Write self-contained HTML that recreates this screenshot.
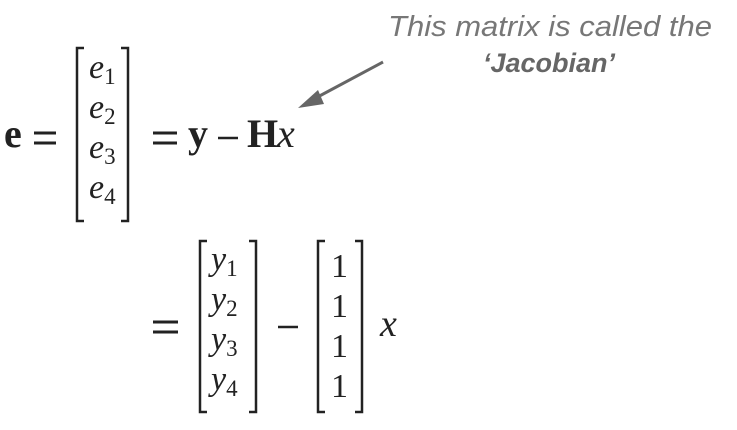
<!DOCTYPE html>
<html><head><meta charset="utf-8"><style>
html,body{margin:0;padding:0;background:#fff;width:737px;height:430px;overflow:hidden}
svg text{font-family:"Liberation Serif",serif;fill:#222}
.it{font-style:italic}
.b{font-weight:bold}
</style></head><body>
<svg width="737" height="430" viewBox="0 0 737 430">
 <g>
  <text x="388" y="36" font-size="29" textLength="324" lengthAdjust="spacingAndGlyphs" style="font-family:'Liberation Sans',sans-serif;font-style:italic;fill:#777">This matrix is called the</text>
  <text x="549" y="72" font-size="27" text-anchor="middle" font-weight="bold" style="font-family:'Liberation Sans',sans-serif;font-style:italic;fill:#666">‘Jacobian’</text>
  <line x1="383" y1="62" x2="312" y2="100" stroke="#666" stroke-width="3"/>
  <polygon points="298,108 318,90 324,104" fill="#666"/>
 </g>
 <g>
  <text class="b" x="4" y="147" font-size="40">e</text>
  <g stroke="#222" stroke-width="3">
   <line x1="34" y1="133" x2="56" y2="133"/><line x1="34" y1="143" x2="56" y2="143"/>
  </g>
  <path d="M84,48 H77 V221 H84" fill="none" stroke="#222" stroke-width="2.5"/>
  <path d="M121,48 H128 V221 H121" fill="none" stroke="#222" stroke-width="2.5"/>
  <text class="it" x="89" y="78" font-size="34">e<tspan font-size="23" dy="6" style="font-style:normal">1</tspan></text>
  <text class="it" x="89" y="118" font-size="34">e<tspan font-size="23" dy="6" style="font-style:normal">2</tspan></text>
  <text class="it" x="89" y="158" font-size="34">e<tspan font-size="23" dy="6" style="font-style:normal">3</tspan></text>
  <text class="it" x="89" y="198" font-size="34">e<tspan font-size="23" dy="6" style="font-style:normal">4</tspan></text>
  <g stroke="#222" stroke-width="3">
   <line x1="153" y1="133" x2="177" y2="133"/><line x1="153" y1="143" x2="177" y2="143"/>
  </g>
  <text class="b" x="188" y="147" font-size="40">y</text>
  <line x1="218" y1="138" x2="238" y2="138" stroke="#222" stroke-width="2.5"/>
  <text class="b" x="247" y="147" font-size="40">H</text>
  <text class="it" x="277" y="147" font-size="40">x</text>
 </g>
 <g>
  <g stroke="#222" stroke-width="3">
   <line x1="153" y1="322" x2="178" y2="322"/><line x1="153" y1="332" x2="178" y2="332"/>
  </g>
  <path d="M207,241 H200 V412 H207" fill="none" stroke="#222" stroke-width="2.5"/>
  <path d="M249,241 H256 V412 H249" fill="none" stroke="#222" stroke-width="2.5"/>
  <text class="it" x="211" y="270" font-size="34">y<tspan font-size="23" dy="6" style="font-style:normal">1</tspan></text>
  <text class="it" x="211" y="310" font-size="34">y<tspan font-size="23" dy="6" style="font-style:normal">2</tspan></text>
  <text class="it" x="211" y="350" font-size="34">y<tspan font-size="23" dy="6" style="font-style:normal">3</tspan></text>
  <text class="it" x="211" y="390" font-size="34">y<tspan font-size="23" dy="6" style="font-style:normal">4</tspan></text>
  <line x1="278" y1="327" x2="298" y2="327" stroke="#222" stroke-width="2.5"/>
  <path d="M325,241 H318 V412 H325" fill="none" stroke="#222" stroke-width="2.5"/>
  <path d="M355,241 H362 V412 H355" fill="none" stroke="#222" stroke-width="2.5"/>
  <text x="331" y="277" font-size="34">1</text>
  <text x="331" y="317" font-size="34">1</text>
  <text x="331" y="357" font-size="34">1</text>
  <text x="331" y="397" font-size="34">1</text>
  <text class="it" x="380" y="336" font-size="38">x</text>
 </g>
</svg>
</body></html>
